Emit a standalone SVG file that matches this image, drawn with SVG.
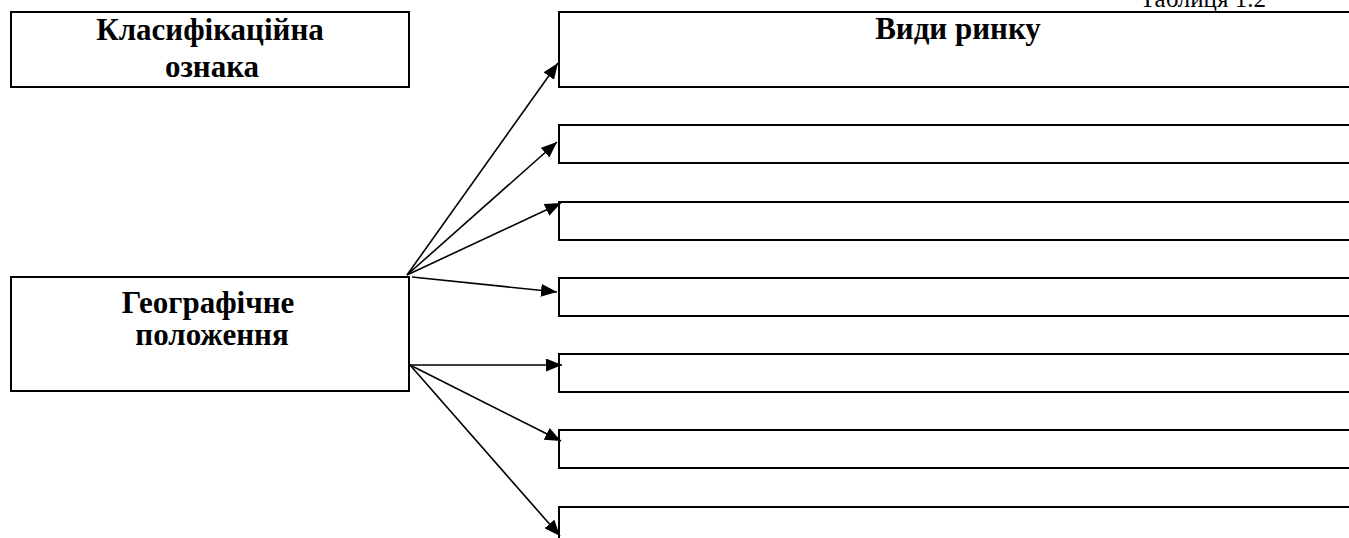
<svg xmlns="http://www.w3.org/2000/svg" width="1349" height="538" viewBox="0 0 1349 538">
  <style>
    .box { fill: #ffffff; stroke: #000000; stroke-width: 2; }
    .hdr { font-family: "Liberation Serif", "Times New Roman", serif; font-weight: bold; font-size: 31px; fill: #000000; text-anchor: middle; }
    .cap { font-family: "Liberation Serif", "Times New Roman", serif; font-size: 25px; fill: #000000; }
    .link { stroke: #000000; stroke-width: 1.6; fill: none; marker-end: url(#arrow); }
  </style>
  <defs>
    <marker id="arrow" markerUnits="userSpaceOnUse" markerWidth="17" markerHeight="13" refX="16" refY="6.5" orient="auto">
      <path d="M0,0 L16,6.5 L0,13 Z" fill="#000000"/>
    </marker>
  </defs>
  <rect width="1349" height="538" fill="#ffffff"/>

  <text class="cap" x="1266" y="7" text-anchor="end">Таблиця 1.2</text>

  <g id="feature-header">
    <rect class="box" x="11" y="12" width="398" height="75"/>
    <text class="hdr" x="210" y="40">Класифікаційна</text>
    <text class="hdr" x="212" y="77">ознака</text>
  </g>

  <g id="market-types-header">
    <rect class="box" x="559" y="12" width="820" height="75"/>
    <text class="hdr" x="958" y="39">Види ринку</text>
  </g>

  <g id="geo-position">
    <rect class="box" x="11" y="277" width="398" height="114"/>
    <text class="hdr" x="208" y="313">Географічне</text>
    <text class="hdr" x="212" y="345">положення</text>
  </g>

  <g id="market-1"><rect class="box" x="559" y="125" width="820" height="38"/></g>
  <g id="market-2"><rect class="box" x="559" y="202" width="820" height="38"/></g>
  <g id="market-3"><rect class="box" x="559" y="278" width="820" height="38"/></g>
  <g id="market-4"><rect class="box" x="559" y="354" width="820" height="38"/></g>
  <g id="market-5"><rect class="box" x="559" y="430" width="820" height="38"/></g>
  <g id="market-6"><rect class="box" x="559" y="507" width="820" height="60"/></g>

  <g id="connectors">
    <line class="link" x1="407" y1="275" x2="558" y2="63"/>
    <line class="link" x1="407" y1="275" x2="557" y2="142"/>
    <line class="link" x1="407" y1="275" x2="561" y2="203"/>
    <line class="link" x1="412" y1="277" x2="557" y2="292"/>
    <line class="link" x1="410" y1="365" x2="562" y2="365"/>
    <line class="link" x1="410" y1="365" x2="561" y2="441"/>
    <line class="link" x1="410" y1="365" x2="560" y2="536"/>
  </g>
</svg>
